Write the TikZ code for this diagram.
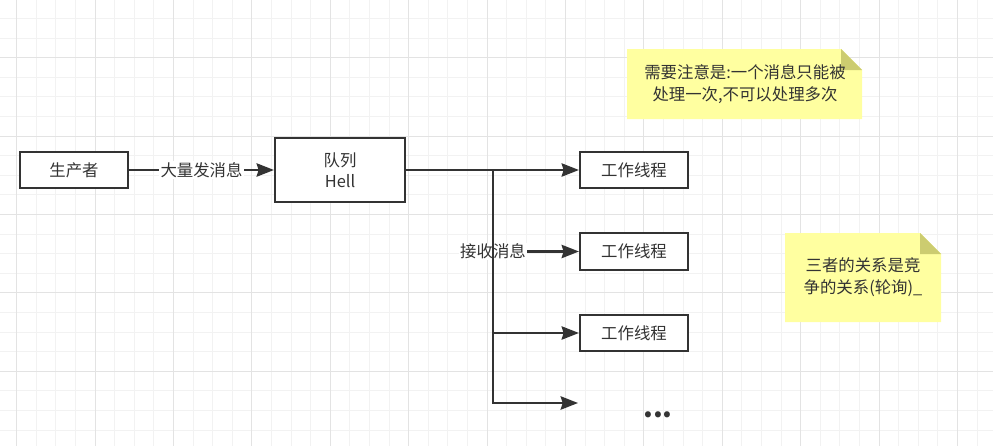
\documentclass[tikz,border=0pt]{standalone}
\usepackage{fontspec}
\setmainfont{Noto Sans CJK SC}
\usepackage{xcolor}
\usepackage{tikz}
\usetikzlibrary{arrows.meta, positioning}

\definecolor{inkgray}{HTML}{333333}
\definecolor{gridminor}{HTML}{F2F2F2}
\definecolor{gridmajor}{HTML}{E3E3E3}
\definecolor{noteyellow}{HTML}{FFFFA0}
\definecolor{notefold}{HTML}{CCCC70}

\begin{document}
\begin{tikzpicture}[x=0.75pt, y=-0.75pt,
    >={Stealth[length=13pt, width=10pt, inset=1.5pt]},
    box/.style={draw=inkgray, line width=1.6pt, fill=white, text=inkgray,
        font=\fontsize{12.3}{16}\selectfont, align=center, inner sep=0pt},
    flow/.style={->, draw=inkgray, line width=1.6pt},
    lbl/.style={fill=white, text=inkgray, font=\fontsize{12.3}{16}\selectfont, inner sep=1pt},
    notetext/.style={text=inkgray, align=center, font=\fontsize{12.3}{16.5}\selectfont}]
    \useasboundingbox (0,0) rectangle (993,446);
    \fill[white] (0,0) rectangle (993,446);

    % 1. Lưới nền
    \foreach \k in {0,...,49}
        \draw[gridminor, line width=0.75pt] ({16.7+19.6*\k},0) -- ({16.7+19.6*\k},446);
    \foreach \k in {0,...,23}
        \draw[gridminor, line width=0.75pt] (0,{-1.1+19.6*\k}) -- (993,{-1.1+19.6*\k});
    \foreach \k in {0,...,12}
        \draw[gridmajor, line width=0.75pt] ({16.7+78.4*\k},0) -- ({16.7+78.4*\k},446);
    \foreach \k in {0,...,6}
        \draw[gridmajor, line width=0.75pt] (0,{-20.7+78.4*\k}) -- (993,{-20.7+78.4*\k});

    % 2. Các khối
    \node[box, minimum width=81pt, minimum height=27pt] (prod) at (74,170) {生产者};
    \node[box, minimum width=97.5pt, minimum height=47.5pt] (queue) at (340,170) {队列\\Hell};
    \node[box, minimum width=81pt, minimum height=27.5pt] (w1) at (634,170) {工作线程};
    \node[box, minimum width=81pt, minimum height=27.5pt] (w2) at (634,251.5) {工作线程};
    \node[box, minimum width=81pt, minimum height=27.5pt] (w3) at (634,333) {工作线程};
    \node[text=inkgray, font=\fontsize{21}{22}\selectfont\bfseries] (dots) at (658,415) {...};
    \coordinate (jn) at (493,170);
    \coordinate (tail) at (578,403);

    % 3. Các mũi tên
    \draw[flow] (prod) -- node[lbl] {大量发消息} (queue);
    \draw[flow] (queue) -- (w1);
    \draw[flow] (jn) |- node[lbl, pos=0.5] {接收消息} (w2);
    \draw[flow] (jn) |- (w3);
    \draw[flow] (jn) |- (tail);

    % 4. Ghi chú màu vàng
    \fill[noteyellow] (627,49) -- (841,49) -- (862,70) -- (862,119) -- (627,119) -- cycle;
    \fill[notefold] (841,49) -- (841,70) -- (862,70) -- cycle;
    \node[notetext] (note1) at (745,84.5) {需要注意是:一个消息只能被\\处理一次,不可以处理多次};

    \fill[noteyellow] (785,233) -- (920,233) -- (941,254) -- (941,322) -- (785,322) -- cycle;
    \fill[notefold] (920,233) -- (920,254) -- (941,254) -- cycle;
    \node[notetext] (note2) at (863,277.5) {三者的关系是竞\\争的关系(轮询)\_};
\end{tikzpicture}
\end{document}
